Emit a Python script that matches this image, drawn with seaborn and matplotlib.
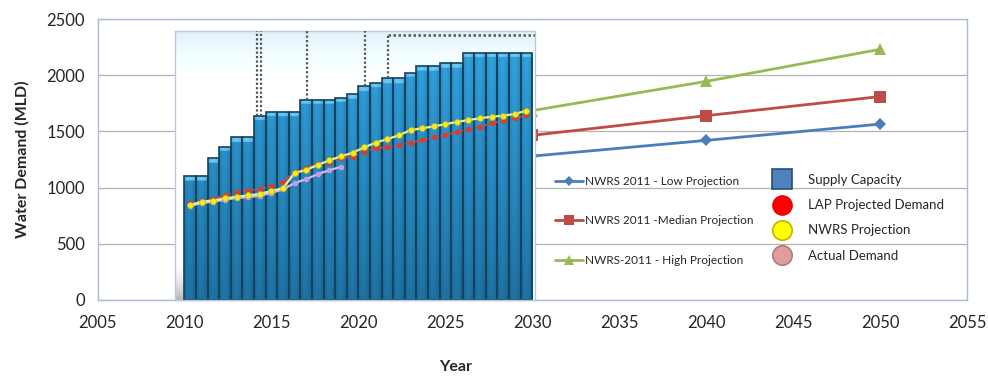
import numpy as np
import matplotlib
matplotlib.use("Agg")
import matplotlib.pyplot as plt
import matplotlib.colors as mcolors
from matplotlib.lines import Line2D
import seaborn as sns

sns.set_theme(style="white")
plt.rcParams["font.family"] = ["Lato", "DejaVu Sans"]

# ---- NWRS 2011 long-range projections (MLD) ----
proj_years = [2030, 2040, 2050]
low_proj = [1280, 1420, 1565]
median_proj = [1465, 1640, 1810]
high_proj = [1685, 1945, 2230]

# ---- Inset: supply capacity and demand per planning period, 2010-2030 ----
period_start = 2010.0
n_periods = 30
supply_capacity = [1100, 1100, 1260, 1365, 1450, 1450, 1640, 1675, 1675, 1675,
                   1780, 1780, 1780, 1800, 1830, 1900, 1935, 1975, 1975, 2020,
                   2080, 2080, 2105, 2105, 2200, 2200, 2200, 2200, 2200, 2200]
lap_demand = [860, 881, 896, 934, 964, 973, 988, 1014, 1053, 1142,
              1172, 1210, 1222, 1261, 1275, 1320, 1349, 1358, 1379, 1400,
              1423, 1447, 1468, 1497, 1518, 1542, 1571, 1595, 1617, 1646]
nwrs_projection = [845, 875, 885, 905, 919, 930, 945, 970, 995, 1130,
                   1157, 1201, 1243, 1278, 1310, 1358, 1400, 1432, 1465, 1512,
                   1527, 1545, 1565, 1584, 1601, 1617, 1631, 1640, 1655, 1684]
actual_demand = [838, 862, 875, 892, 908, 915, 928, 952, 985, 1040,
                 1075, 1120, 1155, 1185]

# dotted markers above capacity steps: position and the period they drop onto
milestone_x = [2014.19, 2014.39, 2017.04, 2020.39, 2021.73]
milestone_period = [6, 6, 10, 15, 17]
plateau_level = 2358

fig = plt.figure(figsize=(9.88, 3.78), dpi=100)
ax = fig.add_axes([97.5 / 988, 1 - 300 / 378, (967 - 97.5) / 988, (300 - 19) / 378])

text_col = "#262626"
spine_col = "#a9bcd0"

# outer projection lines
sns.lineplot(x=proj_years, y=low_proj, ax=ax, color="#4a7ebb", lw=2,
             marker="D", markersize=6, markeredgewidth=0, zorder=3)
sns.lineplot(x=proj_years, y=median_proj, ax=ax, color="#be4b48", lw=2,
             marker="s", markersize=8, markeredgewidth=0, zorder=3)
sns.lineplot(x=proj_years, y=high_proj, ax=ax, color="#98b954", lw=2,
             marker="^", markersize=9, markeredgewidth=0, zorder=3)

ax.set_xlim(2005, 2055)
ax.set_ylim(0, 2500)
ax.set_xticks(range(2005, 2056, 5))
ax.set_yticks(range(0, 2501, 500))
ax.yaxis.grid(True, color="#b3b3b3", lw=0.9)
ax.set_axisbelow(True)
for s in ax.spines.values():
    s.set_color(spine_col)
    s.set_linewidth(1.0)
ax.tick_params(axis="both", which="both", direction="out", length=5,
               color=spine_col, labelsize=12, labelcolor=text_col, pad=4)
ax.tick_params(axis="x", pad=6)
ax.set_ylabel("Water Demand (MLD)", fontsize=11.5, fontweight="bold",
              color=text_col, labelpad=12)
ax.set_xlabel("Year", fontsize=11.5, fontweight="bold", color=text_col)
ax.xaxis.set_label_coords((456 - 97.5) / (967 - 97.5), -(360 - 300) / 281)

# ---- inset chart ----
ix0, ix1, itop = 2009.46, 2030.17, 2393
ins = ax.inset_axes([ix0, 0, ix1 - ix0, itop], transform=ax.transData, zorder=5)

centers = period_start + (np.arange(n_periods) + 0.5) * (20.0 / n_periods)

sns.barplot(x=centers, y=supply_capacity, native_scale=True, orient="x",
            width=1.0, ax=ins, color="#2e8bc0", edgecolor="#12425f",
            linewidth=1.2, saturation=1, zorder=2)
bar_patches = list(ins.patches)

# background: faint sky tint fading to white
bg = np.linspace(0, 1, 100)[:, None]
top_rgb = np.array(mcolors.to_rgb("#e3f0f8"))
bot_rgb = np.array(mcolors.to_rgb("#ffffff"))
bg_img = np.repeat((top_rgb * (1 - bg) + bot_rgb * np.minimum(bg * 1.6, 1))[:, None, :], 2, axis=1)
ins.imshow(bg_img, extent=[ix0, ix1, 0, itop], aspect="auto", zorder=0,
           interpolation="bilinear")
# grey shading in the lower-left corner
sh = np.zeros((60, 2, 4))
sh[:, :, :3] = mcolors.to_rgb("#8c8c8c")
sh[:, :, 3] = np.linspace(0, 0.8, 60)[:, None] ** 2
ins.imshow(sh, extent=[ix0, 2010.1, 0, 380], aspect="auto", zorder=0.5,
           interpolation="bilinear")

# bar body gradient with light top cap and soft horizontal shading
body_lo = np.array(mcolors.to_rgb("#1d6e9d"))
body_hi = np.array(mcolors.to_rgb("#309dd8"))
cap_rgb = np.array(mcolors.to_rgb("#66c0ec"))
shade = np.array([0.93, 1.02, 1.05, 1.03, 0.98, 0.9])
for p in bar_patches:
    x0, w, h = p.get_x(), p.get_width(), p.get_height()
    ys = np.linspace(h, 0, 300)
    t = (ys / 2300.0)[:, None]
    rgb = body_lo + (body_hi - body_lo) * np.clip(t, 0, 1)
    rgb[ys > h - 40] = cap_rgb
    img = np.clip(rgb[:, None, :] * shade[None, :, None], 0, 1)
    im = ins.imshow(img, extent=[x0, x0 + w, 0, h], aspect="auto",
                    interpolation="bilinear", zorder=1.9)
    im.set_clip_path(p)
    p.set_facecolor("none")

# demand series
sns.lineplot(x=centers, y=lap_demand, ax=ins, color="#d2453a", lw=1.3,
             linestyle=(0, (3, 2)), marker="o", markersize=4,
             markerfacecolor="#e03a2a", markeredgewidth=0, zorder=4)
sns.lineplot(x=centers[:len(actual_demand)], y=actual_demand, ax=ins,
             color="#d6b8ee", lw=1.6, marker="o", markersize=4,
             markerfacecolor="#c79be6", markeredgewidth=0, zorder=4)
sns.lineplot(x=centers, y=nwrs_projection, ax=ins, color="#e4eea0", lw=1.6,
             marker="o", markersize=4.2, markerfacecolor="#f4ec20",
             markeredgecolor="#d8b800", markeredgewidth=0.5, zorder=5)

# dotted milestone guides
bottoms = [supply_capacity[i] for i in milestone_period]
tops = [itop] * (len(milestone_x) - 1) + [plateau_level]
ins.vlines(milestone_x, bottoms, tops, colors="#555555", lw=1.6,
           linestyles=(0, (1, 1)), zorder=3)
ins.hlines(plateau_level, milestone_x[-1], ix1, colors="#555555", lw=1.8,
           linestyles=(0, (1, 1)), zorder=3)

ins.set_xlim(ix0, ix1)
ins.set_ylim(0, itop)
ins.set_xticks([])
ins.set_yticks([])
ins.set_xlabel("")
ins.set_ylabel("")
for s in ins.spines.values():
    s.set_color("#b6cadb")
    s.set_linewidth(1.0)

# ---- legends ----
proj_handles = [
    Line2D([], [], color="#4a7ebb", lw=2, marker="D", markersize=5, markeredgewidth=0),
    Line2D([], [], color="#be4b48", lw=2, marker="s", markersize=6.5, markeredgewidth=0),
    Line2D([], [], color="#98b954", lw=2, marker="^", markersize=7, markeredgewidth=0),
]
proj_labels = ["NWRS 2011 - Low Projection", "NWRS 2011 -Median Projection",
               "NWRS-2011 - High Projection"]
leg1 = ax.legend(proj_handles, proj_labels, loc="upper left",
                 bbox_to_anchor=(555 / 988, 1 - 176 / 378),
                 bbox_transform=fig.transFigure, frameon=False, fontsize=8.5,
                 handlelength=2.4, handletextpad=0.15, labelspacing=2.4,
                 borderpad=0, borderaxespad=0, labelcolor=text_col)
leg1.set_zorder(10)
ax.add_artist(leg1)

inset_handles = [
    Line2D([], [], lw=0, marker="s", markersize=14, markerfacecolor="#4f81bd",
           markeredgecolor="#2c4d77", markeredgewidth=1.2),
    Line2D([], [], lw=0, marker="o", markersize=14, markerfacecolor="#ff0000",
           markeredgecolor="#d40000", markeredgewidth=0.8),
    Line2D([], [], lw=0, marker="o", markersize=14, markerfacecolor="#ffff00",
           markeredgecolor="#c8b000", markeredgewidth=1.2),
    Line2D([], [], lw=0, marker="o", markersize=14, markerfacecolor="#e39b9b",
           markeredgecolor="#a88080", markeredgewidth=1.2),
]
inset_labels = ["Supply Capacity", "LAP Projected Demand", "NWRS Projection",
                "Actual Demand"]
leg2 = ax.legend(inset_handles, inset_labels, loc="upper left",
                 bbox_to_anchor=(771 / 988, 1 - 174 / 378),
                 bbox_transform=fig.transFigure, frameon=False, fontsize=9.5,
                 handlelength=1.6, handletextpad=1.2, labelspacing=1.0,
                 borderpad=0, borderaxespad=0, labelcolor=text_col)
leg2.set_zorder(10)

fig.savefig("out.png", dpi=100, facecolor="white")
